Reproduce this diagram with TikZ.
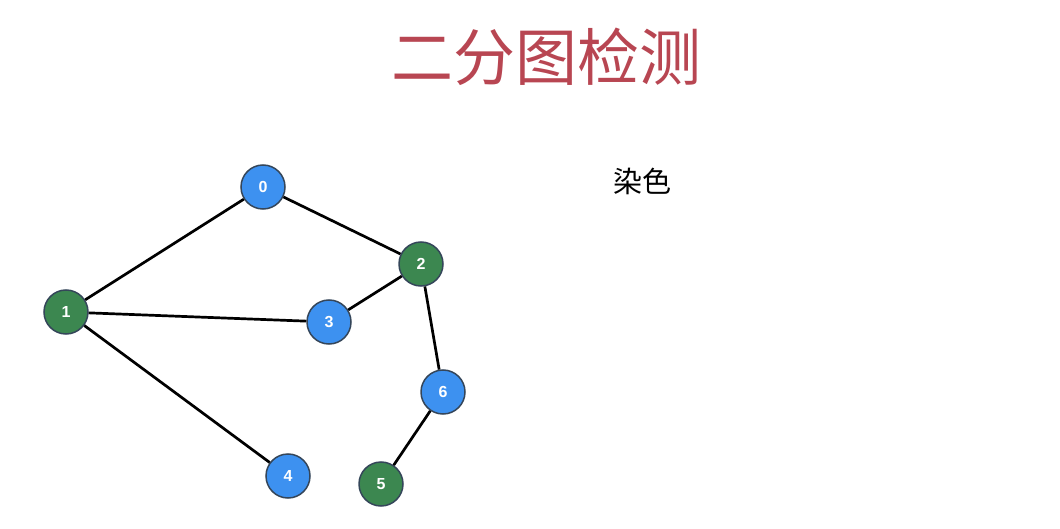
\documentclass[tikz,border=0pt]{standalone}
\usepackage{fontspec}
\setmainfont{Liberation Sans}
\newfontfamily\cjk{Noto Sans CJK SC}
\definecolor{nblue}{HTML}{3D91F0}
\definecolor{ngreen}{HTML}{3C8750}
\definecolor{nborder}{HTML}{35465A}
\definecolor{ttl}{HTML}{B84652}
\begin{document}
\begin{tikzpicture}[x=1pt,y=-1pt,
  vtx/.style={circle,draw=nborder,line width=1.5pt,minimum size=44pt,inner sep=0pt,
    text=white,font=\fontsize{16}{16}\selectfont\bfseries},
  bluev/.style={vtx,fill=nblue},
  greenv/.style={vtx,fill=ngreen},
  edge/.style={line width=2.7pt,black}]
\useasboundingbox (0,0) rectangle (1060,529);
\node[text=ttl,font=\cjk\fontsize{62}{62}\selectfont] (title) at (546,57) {二分图检测};
\node[text=black,font=\cjk\fontsize{29}{29}\selectfont] (rs) at (642,181) {染色};
\node[bluev] (n0) at (263,187) {0};
\node[greenv] (n2) at (421,264) {2};
\node[greenv] (n1) at (66,312) {1};
\node[bluev] (n3) at (329,322) {3};
\node[bluev] (n6) at (443,392) {6};
\node[bluev] (n4) at (288,476) {4};
\node[greenv] (n5) at (381,484) {5};
\draw[edge] (n0) -- (n1);
\draw[edge] (n0) -- (n2);
\draw[edge] (n1) -- (n3);
\draw[edge] (n2) -- (n3);
\draw[edge] (n2) -- (n6);
\draw[edge] (n6) -- (n5);
\draw[edge] (n1) -- (n4);
\end{tikzpicture}
\end{document}
